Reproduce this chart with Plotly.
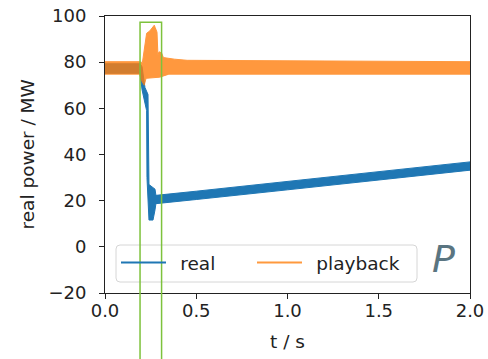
import plotly.graph_objects as go

# ---- measured envelopes of the two power signals (MW) ----
# "real": upper / lower edges of the noisy trace
real_upper_t = [0.000, 0.192, 0.203, 0.214, 0.219, 0.2356, 0.241, 0.274, 0.279, 0.50, 1.00, 1.50, 2.00]
real_upper_p = [79.3, 79.3, 78.0, 72.0, 69.0, 66.0, 27.0, 25.0, 22.3, 24.1, 28.3, 32.4, 36.8]
real_lower_t = [0.000, 0.192, 0.203, 0.214, 0.228, 0.230, 0.236, 0.241, 0.263, 0.274, 0.279, 0.50, 1.00, 1.50, 2.00]
real_lower_p = [75.2, 75.2, 68.0, 64.0, 59.0, 30.0, 20.0, 11.6, 11.6, 16.0, 18.7, 20.5, 24.7, 28.8, 33.2]

# "playback": upper / lower edges of the noisy trace
play_upper_t = [0.000, 0.190, 0.205, 0.222, 0.228, 0.245, 0.270, 0.275, 0.285, 0.290, 0.296, 0.310, 0.320, 0.380, 0.450, 2.000]
play_upper_p = [80.2, 80.2, 79.8, 89.0, 92.5, 93.5, 96.0, 95.0, 93.0, 83.0, 84.5, 84.0, 82.0, 81.3, 80.8, 80.2]
play_lower_t = [0.000, 0.190, 0.200, 0.215, 0.225, 0.300, 0.350, 2.000]
play_lower_p = [74.8, 74.8, 72.0, 70.0, 73.0, 73.5, 74.8, 74.8]

series_names = ["real", "playback"]
series_colors = ["#1f77b4", "#ff7f0e"]

x_ticks = [0.0, 0.5, 1.0, 1.5, 2.0]
y_ticks = [-20, 0, 20, 40, 60, 80, 100]

# highlighted time window of the transient
window_t = [0.192, 0.310]

FONT = "DejaVu Sans"
INK = "#222"

W, H = 488, 359
ML, MR, MT, MB = 105, 18, 16, 66
PW, PH = W - ML - MR, H - MT - MB


def band(t_up, p_up, t_lo, p_lo):
    """Closed polygon: along the upper edge, then back along the lower edge."""
    xs = list(t_up) + list(reversed(t_lo))
    ys = list(p_up) + list(reversed(p_lo))
    return xs, ys


def px_x(px):
    return (px - ML) / PW


def px_y(py):
    return (H - MB - py) / PH


def rounded_box(x0, y0, x1, y1, r):
    """SVG path (paper coords) for a box with rounded corners; inputs in pixels."""
    ax0, ax1 = px_x(x0), px_x(x1)
    ay0, ay1 = px_y(y1), px_y(y0)  # bottom, top
    rx, ry = r / PW, r / PH
    return (
        f"M{ax0 + rx},{ay1} L{ax1 - rx},{ay1} Q{ax1},{ay1} {ax1},{ay1 - ry} "
        f"L{ax1},{ay0 + ry} Q{ax1},{ay0} {ax1 - rx},{ay0} "
        f"L{ax0 + rx},{ay0} Q{ax0},{ay0} {ax0},{ay0 + ry} "
        f"L{ax0},{ay1 - ry} Q{ax0},{ay1} {ax0 + rx},{ay1} Z"
    )


fig = go.Figure()

# legend entries (line samples only), one per legend; en space widens the gap to the text
for name, color, op, lg in zip(series_names, series_colors, [1.0, 0.8], ["legend", "legend2"]):
    fig.add_trace(go.Scatter(
        x=[None], y=[None], mode="lines", name="\u2002" + name,
        line=dict(color=color, width=2), opacity=op, legend=lg,
    ))

bx, by = band(real_upper_t, real_upper_p, real_lower_t, real_lower_p)
fig.add_trace(go.Scatter(
    x=bx, y=by, mode="lines", fill="toself", fillcolor=series_colors[0],
    line=dict(color=series_colors[0], width=1), showlegend=False,
    hoverinfo="skip",
))

ox, oy = band(play_upper_t, play_upper_p, play_lower_t, play_lower_p)
fig.add_trace(go.Scatter(
    x=ox, y=oy, mode="lines", fill="toself", fillcolor=series_colors[1],
    line=dict(color=series_colors[1], width=1), opacity=0.8, showlegend=False,
    hoverinfo="skip",
))

# legend frame
fig.add_shape(
    type="path", xref="paper", yref="paper",
    path=rounded_box(116, 245, 417, 282, 4),
    line=dict(color="#d6d6d6", width=1), fillcolor="rgba(255,255,255,0.8)",
    layer="above",
)

# green marker box around the transient, running past the bottom of the axes
fig.add_shape(
    type="rect", xref="x", yref="paper",
    x0=window_t[0], x1=window_t[1], y0=-0.3, y1=0.977,
    line=dict(color="#7dc23c", width=1.5), fillcolor="rgba(0,0,0,0)",
    layer="above",
)

fig.add_annotation(
    text="<i>P</i>", xref="paper", yref="paper", x=px_x(443), y=px_y(259),
    xanchor="center", yanchor="middle", showarrow=False,
    font=dict(family=FONT, size=38, color="#5a7581"),
)

# axis titles
fig.add_annotation(
    text="real power / MW", xref="paper", yref="paper", x=px_x(27), y=0.5,
    xanchor="center", yanchor="middle", textangle=-90, showarrow=False,
    font=dict(family=FONT, size=18.5, color=INK),
)
fig.add_annotation(
    text="t / s", xref="paper", yref="paper", x=0.5, y=px_y(341),
    xanchor="center", yanchor="middle", showarrow=False,
    font=dict(family=FONT, size=18.5, color=INK),
)

axis_common = dict(
    showline=True, linecolor=INK, linewidth=1, mirror=True,
    ticks="outside", ticklen=5, tickwidth=1, tickcolor=INK,
    showgrid=False, zeroline=False, automargin=False,
    tickfont=dict(family=FONT, size=18, color=INK),
)

fig.update_xaxes(
    range=[0, 2], tickvals=x_ticks, ticktext=[f"{v:.1f}" for v in x_ticks],
    ticklabelstandoff=-4,
    **axis_common,
)
fig.update_yaxes(
    range=[-20, 100], tickvals=y_ticks, ticktext=[str(v).replace("-", "\u2212") for v in y_ticks],
    ticklabelstandoff=9,
    **axis_common,
)

legend_common = dict(
    orientation="h", xanchor="left", yanchor="middle", y=px_y(263),
    bgcolor="rgba(0,0,0,0)", borderwidth=0,
    font=dict(family=FONT, size=18.5, color=INK),
    itemwidth=45,
)

fig.update_layout(
    width=W, height=H,
    margin=dict(l=ML, r=MR, t=MT, b=MB, autoexpand=False),
    paper_bgcolor="white", plot_bgcolor="white",
    font=dict(family=FONT, size=18, color=INK),
    legend=dict(x=px_x(116), **legend_common),
    legend2=dict(x=px_x(252), **legend_common),
)

fig.write_html("out.html")
